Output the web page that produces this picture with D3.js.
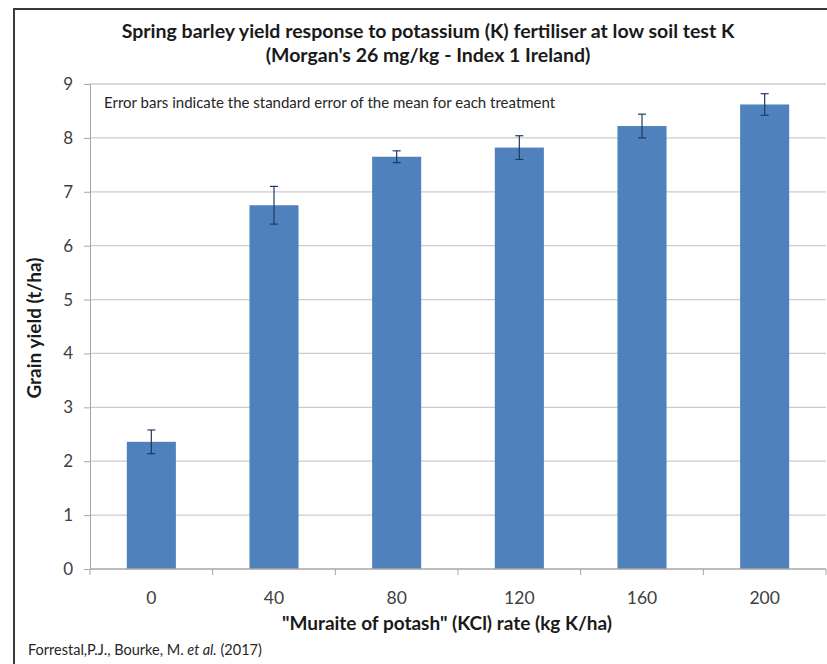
<!DOCTYPE html>
<html>
<head>
<meta charset="utf-8">
<script src="https://cdn.jsdelivr.net/npm/d3@7"></script>
<style>
  html, body { margin: 0; padding: 0; background: #fff; }
  svg { display: block; }
</style>
</head>
<body>
<svg id="chart" width="827" height="664"></svg>
<script>
// K rates (kg K/ha), mean grain yield (t/ha) and standard error per treatment
const rates = ["0", "40", "80", "120", "160", "200"];
const yieldMean = [2.36, 6.75, 7.65, 7.82, 8.22, 8.62];
const yieldSE = [0.22, 0.35, 0.11, 0.22, 0.22, 0.2];
const yTicks = [0, 1, 2, 3, 4, 5, 6, 7, 8, 9];

const font = "Lato, 'Open Sans', sans-serif";
const svg = d3.select("#chart");

// outer frame
svg.append("rect")
  .attr("x", 14).attr("y", 9)
  .attr("width", 830).attr("height", 680)
  .attr("fill", "#fff")
  .attr("stroke", "#3a3a3a").attr("stroke-width", 2);

const plot = { left: 90, right: 826, top: 84, bottom: 569 };

const x = d3.scaleBand()
  .domain(rates)
  .range([plot.left, plot.right])
  .paddingInner(0.6)
  .paddingOuter(0.3);

const y = d3.scaleLinear()
  .domain([0, 9])
  .range([plot.bottom, plot.top]);

// horizontal gridlines
svg.append("g")
  .selectAll("line")
  .data(yTicks.filter(d => d > 0))
  .join("line")
  .attr("x1", plot.left).attr("x2", plot.right)
  .attr("y1", d => y(d)).attr("y2", d => y(d))
  .attr("stroke", "#cccccc").attr("stroke-width", 1.3);

// y axis
const yAxis = svg.append("g")
  .attr("transform", `translate(${plot.left},0)`)
  .call(d3.axisLeft(y).tickValues(yTicks).tickSize(6).tickPadding(11));
yAxis.select(".domain").attr("stroke", "#a6a6a6");
yAxis.selectAll(".tick line").attr("stroke", "#a6a6a6");
yAxis.selectAll(".tick text")
  .attr("font-family", font).attr("font-size", 17)
  .attr("fill", "#404040");

// bars
svg.append("g")
  .selectAll("rect")
  .data(rates)
  .join("rect")
  .attr("x", d => x(d))
  .attr("width", x.bandwidth())
  .attr("y", (d, i) => y(yieldMean[i]))
  .attr("height", (d, i) => y(0) - y(yieldMean[i]))
  .attr("fill", "#4f81bd");

// x axis with ticks at category boundaries
const step = x.step();
const boundaries = d3.range(rates.length + 1).map(i => plot.left + i * step);
svg.append("line")
  .attr("x1", plot.left).attr("x2", plot.right)
  .attr("y1", plot.bottom).attr("y2", plot.bottom)
  .attr("stroke", "#a6a6a6").attr("stroke-width", 1.3);
svg.append("g")
  .selectAll("line")
  .data(boundaries)
  .join("line")
  .attr("x1", d => d).attr("x2", d => d)
  .attr("y1", plot.bottom).attr("y2", plot.bottom + 6)
  .attr("stroke", "#a6a6a6");
svg.append("g")
  .selectAll("text")
  .data(rates)
  .join("text")
  .attr("x", d => x(d) + x.bandwidth() / 2)
  .attr("y", 604)
  .attr("text-anchor", "middle")
  .attr("font-family", font).attr("font-size", 17.5)
  .attr("fill", "#404040")
  .text(d => d);

// error bars
const eb = svg.append("g")
  .attr("stroke", "#1f3a60").attr("stroke-width", 1.2);
rates.forEach((r, i) => {
  const cx = x(r) + x.bandwidth() / 2;
  const hi = y(yieldMean[i] + yieldSE[i]);
  const lo = y(yieldMean[i] - yieldSE[i]);
  eb.append("line").attr("x1", cx).attr("x2", cx).attr("y1", hi).attr("y2", lo);
  eb.append("line").attr("x1", cx - 4).attr("x2", cx + 4).attr("y1", hi).attr("y2", hi);
  eb.append("line").attr("x1", cx - 4).attr("x2", cx + 4).attr("y1", lo).attr("y2", lo);
});

// titles
svg.append("text")
  .attr("x", 428).attr("y", 38)
  .attr("text-anchor", "middle")
  .attr("font-family", font).attr("font-size", 19.5).attr("font-weight", "bold")
  .attr("fill", "#1a1a1a")
  .text("Spring barley yield response to potassium (K) fertiliser at low soil test K");
svg.append("text")
  .attr("x", 428).attr("y", 62)
  .attr("text-anchor", "middle")
  .attr("font-family", font).attr("font-size", 19.5).attr("font-weight", "bold")
  .attr("fill", "#1a1a1a")
  .text("(Morgan's 26 mg/kg - Index 1 Ireland)");

svg.append("text")
  .attr("x", 104).attr("y", 108)
  .attr("font-family", font).attr("font-size", 15)
  .attr("fill", "#262626")
  .text("Error bars indicate the standard error of the mean for each treatment");

// axis titles
svg.append("text")
  .attr("x", 447).attr("y", 630)
  .attr("text-anchor", "middle")
  .attr("font-family", font).attr("font-size", 19).attr("font-weight", "bold")
  .attr("fill", "#1a1a1a")
  .text("\"Muraite of potash\" (KCl) rate (kg K/ha)");
svg.append("text")
  .attr("transform", "translate(41,328) rotate(-90)")
  .attr("text-anchor", "middle")
  .attr("font-family", font).attr("font-size", 19).attr("font-weight", "bold")
  .attr("fill", "#1a1a1a")
  .text("Grain yield (t/ha)");

// source
const src = svg.append("text")
  .attr("x", 28).attr("y", 655)
  .attr("font-family", font).attr("font-size", 14.5)
  .attr("fill", "#262626");
src.append("tspan").text("Forrestal,P.J., Bourke, M. ");
src.append("tspan").attr("font-style", "italic").text("et al.");
src.append("tspan").text("  (2017)");
</script>
</body>
</html>
